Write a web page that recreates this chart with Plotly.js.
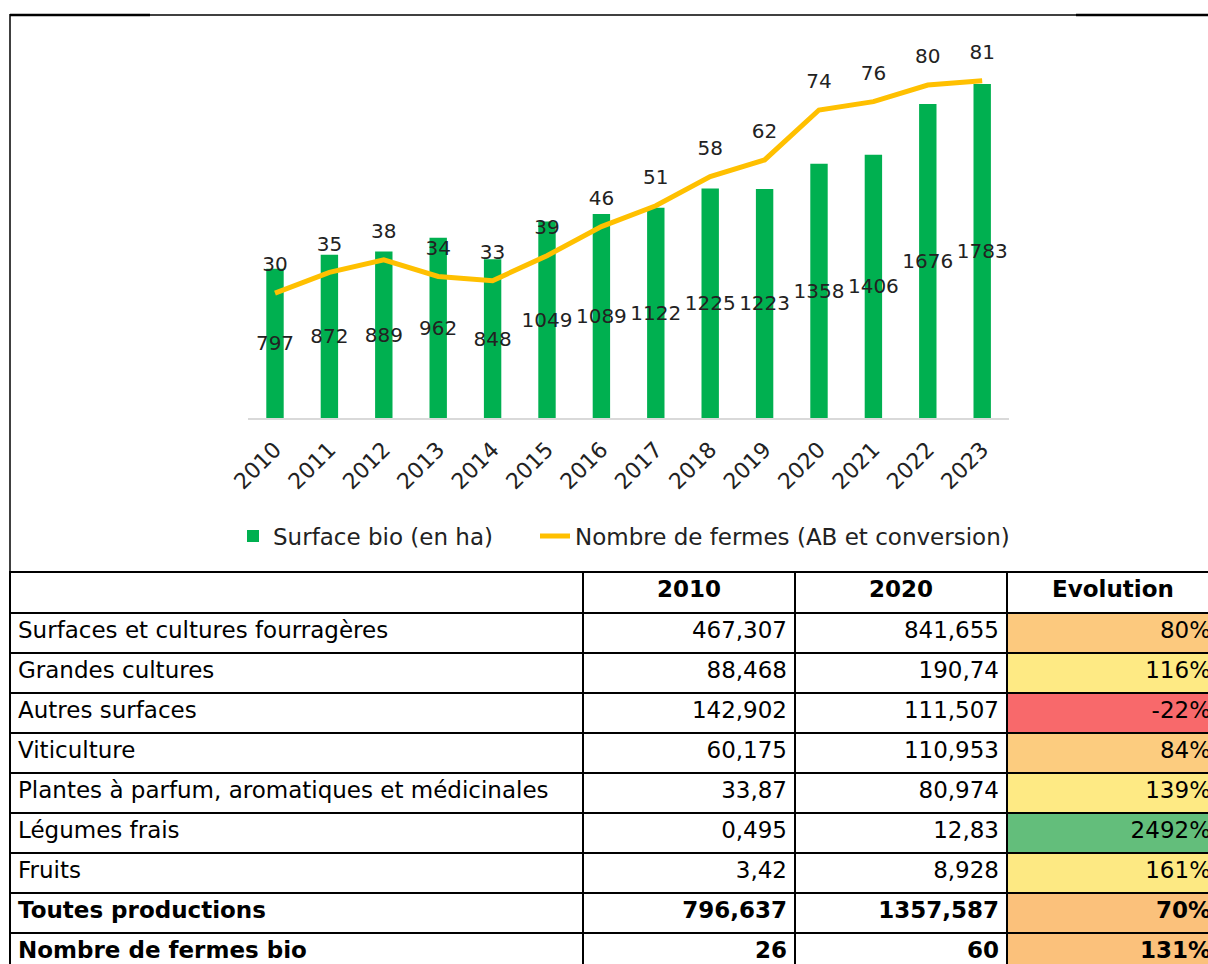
<!DOCTYPE html>
<html>
<head>
<meta charset="utf-8">
<script src="https://cdn.plot.ly/plotly-3.0.1.min.js"></script>
<style>
html, body { margin:0; padding:0; overflow:hidden; background:#fff; }
#wrap { width:1208px; height:964px; overflow:hidden; position:relative; }
#chart { width:1222px; height:980px; }
</style>
</head>
<body>
<div id="wrap"><div id="chart"></div></div>
<script>
// ---- Chart data ----
const years = ["2010","2011","2012","2013","2014","2015","2016","2017","2018","2019","2020","2021","2022","2023"];
const surfaceBio = [797, 872, 889, 962, 848, 1049, 1089, 1122, 1225, 1223, 1358, 1406, 1676, 1783];
const nbFermes = [30, 35, 38, 34, 33, 39, 46, 51, 58, 62, 74, 76, 80, 81];
const seriesNames = ["Surface bio (en ha)", "Nombre de fermes (AB et conversion)"];

// ---- Table data ----
const tableHeader = ["", "2010", "2020", "Evolution"];
const productions = ["Surfaces et cultures fourragères", "Grandes cultures", "Autres surfaces", "Viticulture",
  "Plantes à parfum, aromatiques et médicinales", "Légumes frais", "Fruits", "Toutes productions", "Nombre de fermes bio"];
const val2010 = [467.307, 88.468, 142.902, 60.175, 33.87, 0.495, 3.42, 796.637, 26];
const val2020 = [841.655, 190.74, 111.507, 110.953, 80.974, 12.83, 8.928, 1357.587, 60];
const evolution = [80, 116, -22, 84, 139, 2492, 161, 70, 131];
const boldRows = [7, 8];
const evolColors = ["#fcc97e", "#feea84", "#f8696b", "#fccc7f", "#feea84", "#63be7b", "#fde983", "#fbc17b", "#fbc17b"];

const W = 1222, H = 980;
const px = x => x / W;
const py = y => 1 - y / H;
const fr = v => String(v).replace('.', ',');

const FONT = "DejaVu Sans, Verdana, sans-serif";
const weights = productions.map((_, i) => boldRows.includes(i) ? 'bold' : 'normal');

const traces = [
  {
    type: 'bar', x: years, y: surfaceBio, name: seriesNames[0],
    marker: { color: '#00b050' },
    text: surfaceBio.map(String), textposition: 'inside', insidetextanchor: 'middle',
    textangle: 0, constraintext: 'none',
    insidetextfont: { family: FONT, size: 20, color: '#222' },
    cliponaxis: false, hoverinfo: 'skip', legend: 'legend'
  },
  {
    type: 'scatter', mode: 'lines+markers+text', x: years, y: nbFermes, name: seriesNames[1],
    yaxis: 'y2',
    line: { color: '#ffc000', width: 5 },
    marker: { size: 25, color: 'rgba(0,0,0,0)' },
    text: nbFermes.map(String), textposition: 'top center',
    textfont: { family: FONT, size: 20, color: '#222' },
    cliponaxis: false, hoverinfo: 'skip', legend: 'legend2'
  },
  {
    type: 'table',
    domain: { x: [px(10), px(1219)], y: [py(976), py(572)] },
    columnwidth: [573, 212, 212, 212],
    header: {
      values: tableHeader,
      align: ['center', 'center', 'center', 'center'],
      height: 41,
      line: { color: '#000', width: 2.5 },
      fill: { color: '#fff' },
      font: { family: FONT, size: 23, color: '#000', weight: 'bold' }
    },
    cells: {
      values: [
        productions,
        val2010.map(fr),
        val2020.map(fr),
        evolution.map(v => v + '%')
      ],
      align: ['left', 'right', 'right', 'right'],
      height: 40,
      line: { color: '#000', width: 2.5 },
      fill: { color: [productions.map(() => '#fff'), productions.map(() => '#fff'), productions.map(() => '#fff'), evolColors] },
      font: { family: FONT, size: 23, color: '#000', weight: [weights, weights, weights, weights] }
    }
  }
];

const legendFont = { family: FONT, size: 23, color: '#222' };
const layout = {
  width: W, height: H,
  margin: { l: 0, r: 0, t: 0, b: 0 },
  paper_bgcolor: '#fff', plot_bgcolor: 'rgba(0,0,0,0)',
  font: { family: FONT, color: '#222' },
  bargap: 0.68,
  showlegend: true,
  legend: {
    orientation: 'h', x: px(233), y: py(536), xanchor: 'left', yanchor: 'middle',
    font: legendFont, bgcolor: 'rgba(0,0,0,0)'
  },
  legend2: {
    orientation: 'h', x: px(535), y: py(536), xanchor: 'left', yanchor: 'middle',
    font: legendFont, bgcolor: 'rgba(0,0,0,0)'
  },
  xaxis: {
    type: 'category', domain: [px(247.8), px(1009.4)], anchor: 'y',
    range: [-0.5, 13.5],
    showline: true, linecolor: '#d9d9d9', linewidth: 2,
    showgrid: false, zeroline: false, ticks: '',
    tickangle: -45, ticklabelstandoff: 8,
    tickfont: { family: FONT, size: 22, color: '#222' }
  },
  yaxis: {
    domain: [py(418), py(43.4)], range: [0, 2000],
    visible: false, showgrid: false, zeroline: false
  },
  yaxis2: {
    overlaying: 'y', range: [0, 90], visible: false, showgrid: false, zeroline: false
  },
  shapes: [
    { type: 'line', xref: 'paper', yref: 'paper', x0: px(10), x1: px(1222), y0: py(15), y1: py(15), line: { color: '#000', width: 1.5 } },
    { type: 'line', xref: 'paper', yref: 'paper', x0: px(10), x1: px(150), y0: py(15), y1: py(15), line: { color: '#000', width: 2.5 } },
    { type: 'line', xref: 'paper', yref: 'paper', x0: px(1076), x1: px(1222), y0: py(15), y1: py(15), line: { color: '#000', width: 2.5 } },
    { type: 'line', xref: 'paper', yref: 'paper', x0: px(10), x1: px(10), y0: py(14), y1: py(573), line: { color: '#000', width: 1.5 } }
  ]
};

Plotly.newPlot('chart', traces, layout, { displayModeBar: false, staticPlot: true });
</script>
</body>
</html>
